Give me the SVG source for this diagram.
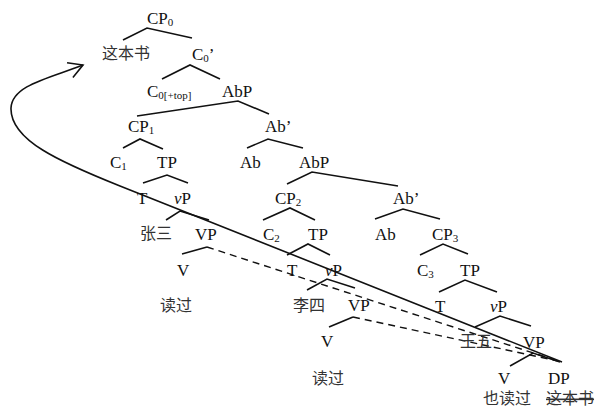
<svg xmlns="http://www.w3.org/2000/svg" width="598" height="411" viewBox="0 0 598 411">
<style>
text{font-family:"Liberation Serif","Noto Sans CJK SC",serif;font-size:17px;fill:#111}
.zh{font-size:16px;fill:#333}
.sub{font-size:11px}
.br{fill:none;stroke:#111;stroke-width:1.6}
.dash{fill:none;stroke:#111;stroke-width:1.4;stroke-dasharray:7 5}
.mv{fill:none;stroke:#111;stroke-width:1.6}
</style>
<defs>
<marker id="arr" viewBox="-17 -10 19 20" refX="0" refY="0" markerWidth="19" markerHeight="20" markerUnits="userSpaceOnUse" orient="auto" overflow="visible">
<path d="M-14,-8 L0,0 L-14,8" fill="none" stroke="#111" stroke-width="1.6"/>
</marker>
</defs>
<g id="connectors">
<polyline class="br" points="123,40 147,28 192,38"/>
<polyline class="br" points="162,79 190,65 220,79"/>
<polyline class="br" points="137,116 238,101 269,114"/>
<polyline class="br" points="123,148 140,139 163,149"/>
<polyline class="br" points="247,148 268,139 303,148"/>
<polyline class="br" points="143,183 167,175 188,183"/>
<polyline class="br" points="287,184 312,172 398,186"/>
<polyline class="br" points="166,220 180,211 209,220"/>
<polyline class="br" points="263,220 290,208 315,220"/>
<polyline class="br" points="375,219 403,209 440,219"/>
<polyline class="br" points="182,254 207,247"/>
<polyline class="br" points="287,255 308,244 330,255"/>
<polyline class="br" points="420,255 443,244 468,254"/>
<polyline class="br" points="307,290 327,279 355,288"/>
<polyline class="br" points="439,292 465,280 497,292"/>
<polyline class="br" points="329,327 353,317"/>
<polyline class="br" points="475,327 500,316 531,326"/>
<polyline class="br" points="510,366 533,353 560,362"/>
<line class="dash" x1="207" y1="247" x2="558" y2="361"/>
<line class="dash" x1="353" y1="317" x2="558" y2="361"/>
<path class="mv" d="M562,362 L120,186 C60,162 10,140 11,108 C12,85 50,78 83,65" marker-end="url(#arr)"/>
</g>
<g id="n-cp0"><text x="147" y="24">CP<tspan class="sub" dy="2">0</tspan></text></g>
<g id="n-topic"><text class="zh" x="102" y="59">这本书</text></g>
<g id="n-c0bar"><text x="192" y="60">C<tspan class="sub" dy="2">0</tspan><tspan dy="-2">’</tspan></text></g>
<g id="n-c0top"><text x="147" y="97">C<tspan class="sub" dy="2">0[+top]</tspan></text></g>
<g id="n-abp1"><text x="222" y="97">AbP</text></g>
<g id="n-cp1"><text x="128" y="132">CP<tspan class="sub" dy="2">1</tspan></text></g>
<g id="n-abbar1"><text x="265" y="132">Ab’</text></g>
<g id="n-c1"><text x="110" y="168">C<tspan class="sub" dy="2">1</tspan></text></g>
<g id="n-tp1"><text x="157" y="168">TP</text></g>
<g id="n-ab1"><text x="240" y="168">Ab</text></g>
<g id="n-abp2"><text x="299" y="168">AbP</text></g>
<g id="n-t1"><text x="137" y="204">T</text></g>
<g id="n-vp1"><text x="174" y="204"><tspan font-style="italic">v</tspan>P</text></g>
<g id="n-cp2"><text x="275" y="204">CP<tspan class="sub" dy="2">2</tspan></text></g>
<g id="n-abbar2"><text x="393" y="204">Ab’</text></g>
<g id="n-zs"><text class="zh" x="140" y="239">张三</text></g>
<g id="n-VP1"><text x="195" y="240">VP</text></g>
<g id="n-c2"><text x="263" y="240">C<tspan class="sub" dy="2">2</tspan></text></g>
<g id="n-tp2"><text x="308" y="240">TP</text></g>
<g id="n-ab2"><text x="375" y="240">Ab</text></g>
<g id="n-cp3"><text x="432" y="240">CP<tspan class="sub" dy="2">3</tspan></text></g>
<g id="n-V1"><text x="177" y="276">V</text></g>
<g id="n-t2"><text x="287" y="276">T</text></g>
<g id="n-vp2"><text x="325" y="276"><tspan font-style="italic">v</tspan>P</text></g>
<g id="n-c3"><text x="417" y="276">C<tspan class="sub" dy="2">3</tspan></text></g>
<g id="n-tp3"><text x="460" y="276">TP</text></g>
<g id="n-dg1"><text class="zh" x="160" y="311">读过</text></g>
<g id="n-ls"><text class="zh" x="293" y="311">李四</text></g>
<g id="n-VP2"><text x="348" y="311">VP</text></g>
<g id="n-t3"><text x="435" y="312">T</text></g>
<g id="n-vp3"><text x="490" y="312"><tspan font-style="italic">v</tspan>P</text></g>
<g id="n-V2"><text x="321" y="347">V</text></g>
<g id="n-ww"><text class="zh" x="460" y="347">王五</text></g>
<g id="n-VP3"><text x="523" y="348">VP</text></g>
<g id="n-dg2"><text class="zh" x="312" y="384">读过</text></g>
<g id="n-V3"><text x="498" y="384">V</text></g>
<g id="n-dp"><text x="548" y="384">DP</text></g>
<g id="n-ydg"><text class="zh" x="483" y="404">也读过</text></g>
<g id="n-trace"><text class="zh" x="546" y="404" text-decoration="line-through">这本书</text></g>
</svg>
